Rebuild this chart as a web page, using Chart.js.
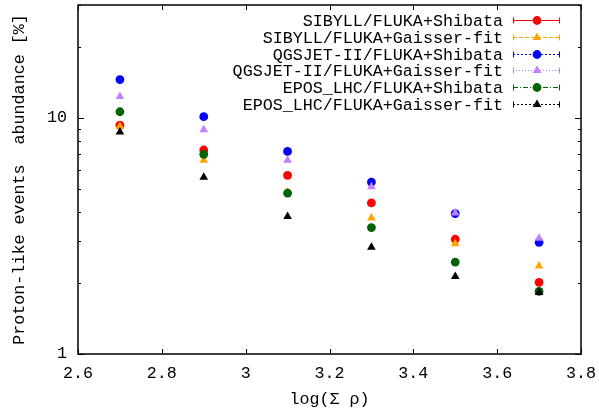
<!DOCTYPE html>
<html>
<head>
<meta charset="utf-8">
<script src="https://cdn.jsdelivr.net/npm/chart.js@4"></script>
<style>
  html, body { margin: 0; padding: 0; background: #fff; }
  #wrap { width: 599px; height: 412px; }
</style>
</head>
<body>
<div id="wrap"><canvas id="chart" width="599" height="412"></canvas></div>
<script>
// log(sum rho) bins
const xValues = [2.7, 2.9, 3.1, 3.3, 3.5, 3.7];

// proton-like abundance [%] per model
const sibyllShibata = [9.3, 7.3, 5.7, 4.36, 3.06, 2.01];
const sibyllGaisser = [9.2, 6.6, 4.85, 3.76, 2.93, 2.36];
const qgsjetShibata = [14.5, 10.1, 7.2, 5.34, 3.93, 2.97];
const qgsjetGaisser = [12.3, 8.9, 6.6, 5.1, 3.95, 3.09];
const eposShibata = [10.6, 7.0, 4.8, 3.43, 2.45, 1.84];
const eposGaisser = [8.7, 5.6, 3.82, 2.83, 2.13, 1.82];

const seriesLabels = [
  'SIBYLL/FLUKA+Shibata',
  'SIBYLL/FLUKA+Gaisser-fit',
  'QGSJET-II/FLUKA+Shibata',
  'QGSJET-II/FLUKA+Gaisser-fit',
  'EPOS_LHC/FLUKA+Shibata',
  'EPOS_LHC/FLUKA+Gaisser-fit'
];
const seriesValues = [sibyllShibata, sibyllGaisser, qgsjetShibata, qgsjetGaisser, eposShibata, eposGaisser];

const xTicks = [2.6, 2.8, 3, 3.2, 3.4, 3.6, 3.8];
const yTicks = [1, 2, 3, 4, 5, 6, 7, 8, 9, 10, 20, 30];
const yLabelled = [1, 10];

// styles
const colors = ['#ff0000', '#ffa500', '#0000ff', '#c080ff', '#006400', '#000000'];
const shapes = ['circle', 'triangle', 'circle', 'triangle', 'circle', 'triangle'];
const dashes = [[], [4, 2], [2, 2], [1, 2], [5, 2, 1, 2], [2, 2]];
const FONT = '"Liberation Mono", "DejaVu Sans Mono", monospace';
const FSIZE = 16.7;

const datasets = seriesValues.map((vals, i) => ({
  label: seriesLabels[i],
  data: vals.map((v, j) => ({ x: xValues[j], y: v })),
  showLine: false,
  pointStyle: shapes[i],
  pointRadius: shapes[i] === 'circle' ? 4.4 : 5,
  backgroundColor: colors[i],
  borderColor: colors[i],
  borderWidth: 0,
  order: seriesValues.length - i // later series on top
}));

// border + inward ticks on all four sides
const frame = {
  id: 'frame',
  afterDraw(chart) {
    const { ctx, chartArea: a, scales: { x, y } } = chart;
    ctx.save();
    ctx.strokeStyle = '#000';
    ctx.lineWidth = 1;
    ctx.beginPath();
    xTicks.forEach(v => {
      const px = Math.round(x.getPixelForValue(v)) + 0.5;
      ctx.moveTo(px, a.bottom); ctx.lineTo(px, a.bottom - 5);
      ctx.moveTo(px, a.top); ctx.lineTo(px, a.top + 5);
    });
    yTicks.forEach(v => {
      const py = Math.round(y.getPixelForValue(v)) + 0.5;
      const len = yLabelled.includes(v) ? 6 : 3;
      ctx.moveTo(a.left, py); ctx.lineTo(a.left + len, py);
      ctx.moveTo(a.right, py); ctx.lineTo(a.right - len, py);
    });
    ctx.stroke();
    ctx.lineWidth = 1.5;
    ctx.strokeRect(a.left, a.top, a.right - a.left, a.bottom - a.top);
    ctx.restore();
  }
};

// gnuplot-like key, top right inside the plot
const key = {
  id: 'key',
  afterDatasetsDraw(chart) {
    const { ctx } = chart;
    const textRight = 503, x0 = 513, x1 = 560, mx = 537;
    ctx.save();
    ctx.font = FSIZE + 'px ' + FONT;
    ctx.textAlign = 'right';
    ctx.textBaseline = 'middle';
    seriesLabels.forEach((lab, i) => {
      const yy = Math.round(20 + i * 16.8) + 0.5;
      ctx.fillStyle = '#000';
      ctx.fillText(lab, textRight, yy + 1);
      ctx.strokeStyle = colors[i];
      ctx.lineWidth = 1;
      ctx.setLineDash(dashes[i]);
      ctx.beginPath();
      ctx.moveTo(x0, yy); ctx.lineTo(x1, yy);
      ctx.stroke();
      ctx.setLineDash([]);
      ctx.beginPath();
      ctx.moveTo(x0 + 0.5, yy - 3); ctx.lineTo(x0 + 0.5, yy + 3);
      ctx.moveTo(x1 - 0.5, yy - 3); ctx.lineTo(x1 - 0.5, yy + 3);
      ctx.stroke();
      ctx.fillStyle = colors[i];
      Chart.helpers.drawPoint(ctx, {
        pointStyle: shapes[i],
        radius: shapes[i] === 'circle' ? 4.4 : 5,
        borderWidth: 0
      }, mx, yy);
    });
    ctx.restore();
  }
};

new Chart(document.getElementById('chart'), {
  type: 'scatter',
  data: { datasets },
  options: {
    responsive: false,
    animation: false,
    layout: { padding: { top: 5, right: 18, left: 0, bottom: 0 } },
    plugins: { legend: { display: false }, tooltip: { enabled: false } },
    scales: {
      x: {
        type: 'linear',
        min: 2.6,
        max: 3.8,
        afterBuildTicks: s => { s.ticks = xTicks.map(v => ({ value: v })); },
        afterFit: s => { s.height = 58; s.paddingLeft = 0; s.paddingRight = 0; },
        grid: { display: false, drawTicks: false },
        border: { display: false },
        ticks: {
          padding: 10,
          color: '#000',
          font: { family: FONT, size: FSIZE },
          maxRotation: 0,
          autoSkip: false,
          callback: v => String(Number(v.toFixed(1)))
        },
        title: {
          display: true,
          text: 'log(Σ ρ)',
          color: '#000',
          font: { family: FONT, size: FSIZE },
          padding: { top: 0, bottom: 2 }
        }
      },
      y: {
        type: 'logarithmic',
        min: 1,
        max: 30,
        afterBuildTicks: s => { s.ticks = yTicks.map(v => ({ value: v })); },
        afterFit: s => { s.width = 78; s.paddingTop = 0; s.paddingBottom = 0; },
        grid: { display: false, drawTicks: false },
        border: { display: false },
        ticks: {
          padding: 11,
          color: '#000',
          font: { family: FONT, size: FSIZE },
          autoSkip: false,
          callback: v => (yLabelled.includes(v) ? String(v) : '')
        },
        title: {
          display: true,
          text: 'Proton-like events  abundance [%]',
          color: '#000',
          font: { family: FONT, size: FSIZE },
          padding: { top: 10, bottom: 0 }
        }
      }
    }
  },
  plugins: [frame, key]
});
</script>
</body>
</html>
